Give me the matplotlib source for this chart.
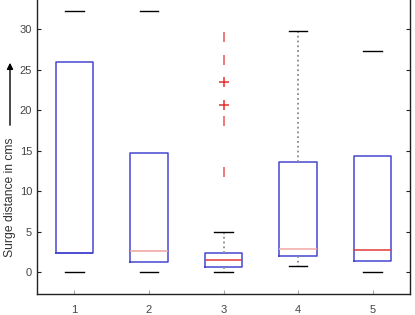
import matplotlib
matplotlib.use("Agg")
import matplotlib.pyplot as plt

# box statistics (cms)
groups = [1, 2, 3, 4, 5]
q1 = [2.4, 1.2, 0.6, 2.0, 1.4]
q3 = [26.0, 14.7, 2.4, 13.6, 14.4]
med = [2.4, 2.6, 1.45, 2.9, 2.7]
whislo = [0.0, 0.0, 0.0, 0.8, 0.0]
whishi = [32.3, 32.2, 5.0, 29.8, 27.3]
fliers3_plus = [23.5, 20.6]
fliers3_dash = [29.0, 26.2, 18.6, 12.4]

plt.rcParams['font.family'] = ['Liberation Sans', 'DejaVu Sans']
fig = plt.figure(figsize=(4.15, 3.15), dpi=100)
ax = fig.add_axes([37 / 415, 21 / 315, 373 / 415, 294 / 315])

stats = []
for i in range(len(groups)):
    stats.append({'med': med[i], 'q1': q1[i], 'q3': q3[i],
                  'whislo': whislo[i], 'whishi': whishi[i],
                  'fliers': fliers3_plus if groups[i] == 3 else []})

bp = ax.bxp(stats, positions=groups, widths=0.5, capwidths=0.25,
            boxprops=dict(color='#4646d2', lw=1.1),
            medianprops=dict(color='#e23a3a', lw=1.1),
            whiskerprops=dict(color='#8a8a8a', lw=1.3, ls=':'),
            capprops=dict(color='black', lw=1.0),
            flierprops=dict(marker='+', markeredgecolor='#e83030', markersize=7, mew=1.1))

# whiskers only show for boxes 3 and 4 in the original
for i, w in enumerate(bp['whiskers']):
    if groups[i // 2] not in (3, 4):
        w.set_visible(False)
bp['medians'][0].set_color('#4646d2')
bp['medians'][1].set_color('#f0a0a0')
bp['medians'][3].set_color('#f4a8a8')

ax.plot([3] * len(fliers3_dash), fliers3_dash, ls='none', marker='|',
        markersize=7, mew=1.3, color='#ee7070')

ax.set_xlim(0.5, 5.5)
ax.set_ylim(-2.7, 33.6)
ax.set_yticks([0, 5, 10, 15, 20, 25, 30])
ax.set_xticks(groups)
ax.set_xticklabels([str(g) for g in groups])
ax.tick_params(direction='in', length=3, labelsize=8, right=True,
               color='#222222', labelcolor='#444444')
ax.tick_params(axis='x', pad=8, color='#aaaaaa')
ax.spines['top'].set_visible(False)
for s in ['left', 'right', 'bottom']:
    ax.spines[s].set_linewidth(1.0)
    ax.spines[s].set_color('#222222')

fig.text(10 / 415, 1 - 197 / 315, 'Surge distance in cms', rotation=90,
         ha='center', va='center', fontsize=8.7, color='#333333')
fig.add_artist(matplotlib.patches.FancyArrowPatch(
    (10 / 415, 1 - 128 / 315), (10 / 415, 1 - 60 / 315), transform=fig.transFigure,
    arrowstyle='-|>', mutation_scale=9, color='black', lw=1.0))

fig.savefig('out.png', dpi=100)
